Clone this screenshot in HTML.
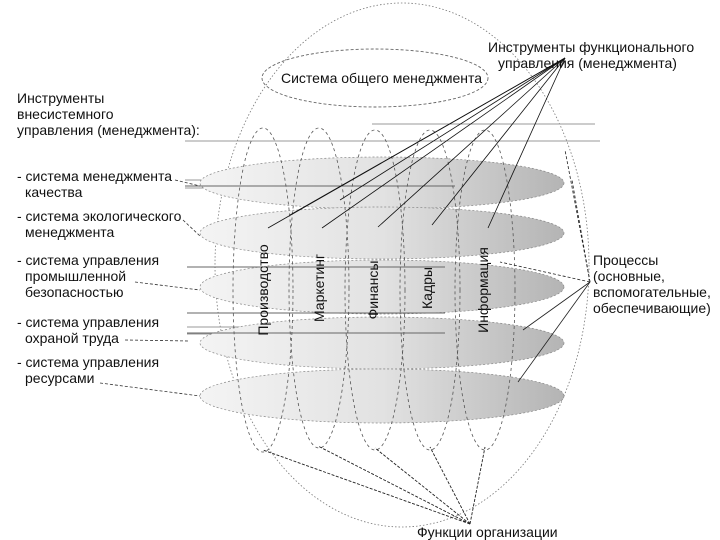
<!DOCTYPE html>
<html><head><meta charset="utf-8"><style>
html,body{margin:0;padding:0;background:#fff;}
svg{display:block;}
text{font-family:"Liberation Sans","DejaVu Sans",sans-serif;font-size:14px;fill:#111;}
</style></head><body>
<svg width="720" height="540" viewBox="0 0 720 540" xmlns="http://www.w3.org/2000/svg">
<defs>
<linearGradient id="g" x1="0" x2="1" y1="0" y2="0">
<stop offset="0" stop-color="#f4f4f4"/><stop offset="0.5" stop-color="#e2e2e2"/><stop offset="1" stop-color="#b4b4b4"/>
</linearGradient>
</defs>
<ellipse cx="402" cy="265" rx="187" ry="262" fill="none" stroke="#777" stroke-width="0.8" stroke-dasharray="1.5,2"/>
<ellipse cx="375" cy="78" rx="113" ry="29" fill="none" stroke="#666" stroke-width="0.9" stroke-dasharray="3,2"/>
<text x="281" y="83">Система общего менеджмента</text>
<g stroke="#999" stroke-width="1">
<line x1="372" y1="124" x2="595" y2="124"/>
<line x1="185" y1="141" x2="600" y2="141"/>
<line x1="185" y1="180" x2="455" y2="180"/>
<line x1="185" y1="188" x2="455" y2="188"/>
<line x1="187" y1="267" x2="445" y2="267"/>
<line x1="187" y1="313" x2="445" y2="313"/>
<line x1="187" y1="327" x2="445" y2="327"/>
<line x1="187" y1="334" x2="445" y2="334"/>
</g>
<g fill="url(#g)" stroke="#888" stroke-width="0.7" stroke-dasharray="2,2">
<ellipse cx="382" cy="183" rx="182" ry="26"/>
<ellipse cx="382" cy="233" rx="182" ry="26"/>
<ellipse cx="382" cy="287" rx="182" ry="27"/>
<ellipse cx="382" cy="343" rx="182" ry="26"/>
<ellipse cx="382" cy="396" rx="182" ry="27"/>
</g>
<g stroke="#666" stroke-width="1">
<line x1="185" y1="186" x2="455" y2="186"/>
<line x1="187" y1="267" x2="445" y2="267"/>
<line x1="187" y1="313" x2="445" y2="313"/>
<line x1="187" y1="333" x2="445" y2="333"/>
</g>
<g fill="none" stroke="#555" stroke-width="0.8" stroke-dasharray="3,3">
<ellipse cx="263" cy="290" rx="30" ry="162"/>
<ellipse cx="319" cy="288" rx="30" ry="160"/>
<ellipse cx="375" cy="290" rx="30" ry="160"/>
<ellipse cx="430" cy="290" rx="30" ry="160"/>
<ellipse cx="485" cy="290" rx="30" ry="160"/>
</g>
<g stroke="#111" stroke-width="0.8">
<line x1="565" y1="58" x2="268" y2="228"/>
<line x1="565" y1="58" x2="322" y2="228"/>
<line x1="565" y1="58" x2="378" y2="227"/>
<line x1="565" y1="58" x2="432" y2="225"/>
<line x1="565" y1="58" x2="488" y2="228"/>
<line x1="565" y1="58" x2="290" y2="215"/>
<line x1="565" y1="58" x2="340" y2="200"/>
</g>
<g stroke="#222" stroke-width="0.8" stroke-dasharray="3,2">
<line x1="590" y1="282" x2="565" y2="150"/>
<line x1="590" y1="282" x2="572" y2="180"/>
<line x1="590" y1="282" x2="500" y2="262"/>
</g>
<g stroke="#222" stroke-width="0.8">
<line x1="590" y1="282" x2="523" y2="330"/>
<line x1="590" y1="282" x2="518" y2="382"/>
</g>
<g stroke="#222" stroke-width="0.9" stroke-dasharray="3,1.5">
<line x1="470" y1="524" x2="263" y2="450"/>
<line x1="470" y1="524" x2="318" y2="446"/>
<line x1="470" y1="524" x2="375" y2="448"/>
<line x1="470" y1="524" x2="430" y2="447"/>
<line x1="470" y1="524" x2="485" y2="447"/>
</g>
<g stroke="#333" stroke-width="0.8" stroke-dasharray="3,2">
<line x1="175" y1="180" x2="200" y2="186"/>
<line x1="183" y1="220" x2="200" y2="236"/>
<line x1="135" y1="282" x2="200" y2="290"/>
<line x1="125" y1="340" x2="190" y2="341"/>
<line x1="100" y1="383" x2="200" y2="396"/>
</g>
<g>
<text transform="translate(268,290) rotate(-90)" text-anchor="middle">Производство</text>
<text transform="translate(324,288) rotate(-90)" text-anchor="middle">Маркетинг</text>
<text transform="translate(378,290) rotate(-90)" text-anchor="middle">Финансы</text>
<text transform="translate(432,288) rotate(-90)" text-anchor="middle">Кадры</text>
<text transform="translate(488,290) rotate(-90)" text-anchor="middle">Информация</text>
</g>
<text x="488" y="52">Инструменты функционального</text>
<text x="498" y="68">управления (менеджмента)</text>
<text x="17" y="103">Инструменты</text>
<text x="17" y="119">внесистемного</text>
<text x="17" y="135">управления (менеджмента):</text>
<text x="17" y="181">- система менеджмента</text>
<text x="25" y="197">качества</text>
<text x="17" y="221">- система экологического</text>
<text x="25" y="237">менеджмента</text>
<text x="17" y="265">- система управления</text>
<text x="25" y="281">промышленной</text>
<text x="25" y="297">безопасностью</text>
<text x="17" y="327">- система управления</text>
<text x="25" y="343">охраной труда</text>
<text x="17" y="367">- система управления</text>
<text x="25" y="383">ресурсами</text>
<text x="593" y="265">Процессы</text>
<text x="593" y="281">(основные,</text>
<text x="593" y="297">вспомогательные,</text>
<text x="593" y="313">обеспечивающие)</text>
<text x="417" y="537">Функции организации</text>
</svg>
</body></html>
